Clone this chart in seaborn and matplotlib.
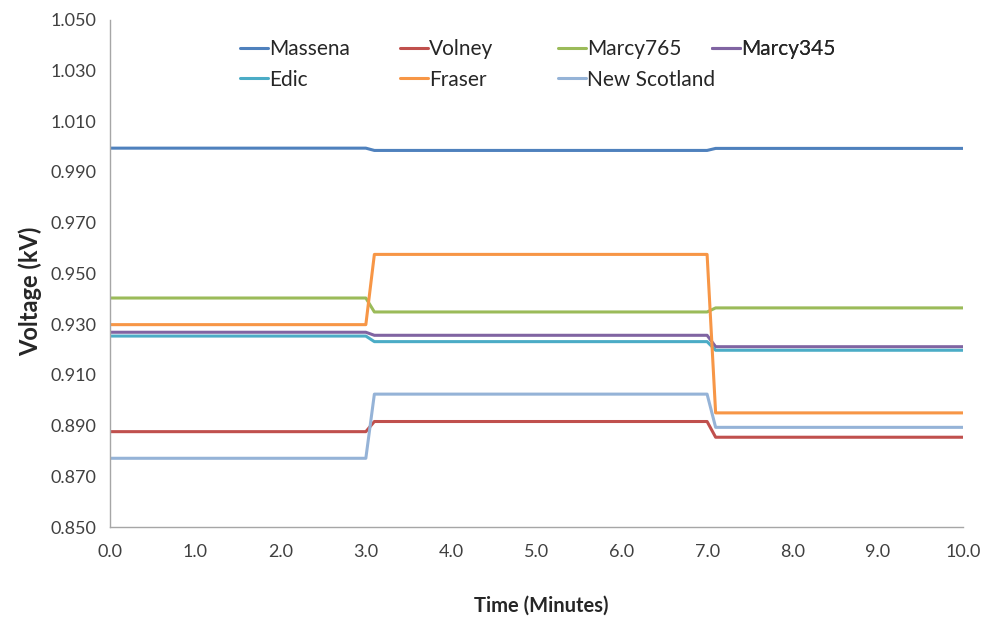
import matplotlib
matplotlib.use("Agg")
import matplotlib.pyplot as plt
import seaborn as sns
import pandas as pd
import numpy as np
from matplotlib.ticker import FormatStrFormatter

# ---- data ----
time_min = [0.0, 3.0, 3.1, 7.0, 7.1, 10.0]
massena = [0.9994, 0.9994, 0.9985, 0.9985, 0.9993, 0.9993]
volney = [0.8876, 0.8876, 0.8916, 0.8916, 0.8854, 0.8854]
marcy765 = [0.9403, 0.9403, 0.9348, 0.9348, 0.9364, 0.9364]
marcy345 = [0.9268, 0.9268, 0.9256, 0.9256, 0.9211, 0.9211]
edic = [0.9253, 0.9253, 0.9231, 0.9231, 0.9197, 0.9197]
fraser = [0.9298, 0.9298, 0.9575, 0.9575, 0.8950, 0.8950]
new_scotland = [0.8771, 0.8771, 0.9024, 0.9024, 0.8893, 0.8893]

stations = ["Massena", "Volney", "Marcy765", "Marcy345", "Edic", "Fraser", "New Scotland"]
series = [massena, volney, marcy765, marcy345, edic, fraser, new_scotland]
colors = ["#4F81BD", "#C0504D", "#9BBB59", "#8064A2", "#4BACC6", "#F79646", "#95B3D7"]

y_ticks = [0.850, 0.870, 0.890, 0.910, 0.930, 0.950, 0.970, 0.990, 1.010, 1.030, 1.050]
x_ticks = [0.0, 1.0, 2.0, 3.0, 4.0, 5.0, 6.0, 7.0, 8.0, 9.0, 10.0]

df = pd.DataFrame({
    "Time": np.tile(time_min, len(stations)),
    "Voltage": np.concatenate(series),
    "Station": np.repeat(stations, len(time_min)),
})

sns.set_theme(style="white")
plt.rcParams["font.family"] = ["Lato", "DejaVu Sans"]

fig = plt.figure(figsize=(9.99, 6.2), dpi=100)
ax = fig.add_axes([0.110, 0.150, 0.854, 0.818])

palette = dict(zip(stations, colors))
sns.lineplot(data=df, x="Time", y="Voltage", hue="Station", hue_order=stations,
             palette=palette, linewidth=2.2, ax=ax,
             estimator=None, sort=False, legend=False)

ax.set_xlim(0, 10)
ax.set_ylim(0.850, 1.050)
ax.set_yticks(y_ticks)
ax.set_xticks(x_ticks)
ax.yaxis.set_major_formatter(FormatStrFormatter("%.3f"))
ax.xaxis.set_major_formatter(FormatStrFormatter("%.1f"))

for side in ["top", "right"]:
    ax.spines[side].set_visible(False)
for side in ["left", "bottom"]:
    ax.spines[side].set_color("#A6A6A6")
    ax.spines[side].set_linewidth(1.0)

ax.tick_params(axis="both", which="major", direction="out", length=4, width=0.8,
               color="#A6A6A6", labelsize=13, labelcolor="#404040")
ax.tick_params(axis="y", pad=6)
ax.tick_params(axis="x", pad=8)

ax.set_xlabel("Time (Minutes)", fontsize=14.5, fontweight="bold", color="#262626")
ax.set_ylabel("Voltage (kV)", fontsize=17, fontweight="bold", color="#262626")
ax.xaxis.set_label_coords(0.506, -0.135)
ax.yaxis.set_label_coords(-0.080, 0.465)

# legend: 2 rows x 4 fixed-width columns, as in the reference
columns = [["Massena", "Edic"], ["Volney", "Fraser"], ["Marcy765", "New Scotland"], ["Marcy345"]]
col_x = [0.152, 0.340, 0.525, 0.706]
for names, cx in zip(columns, col_x):
    handles = [plt.Line2D([0], [0], color=palette[s], lw=2.2) for s in names]
    leg = ax.legend(handles, names, loc="upper left", bbox_to_anchor=(cx, 0.962),
                    frameon=False, fontsize=15, handlelength=1.35, handletextpad=0.05,
                    labelspacing=0.5, borderpad=0, borderaxespad=0)
    for t in leg.get_texts():
        t.set_color("#262626")
    ax.add_artist(leg)

fig.savefig("out.png", dpi=100)
